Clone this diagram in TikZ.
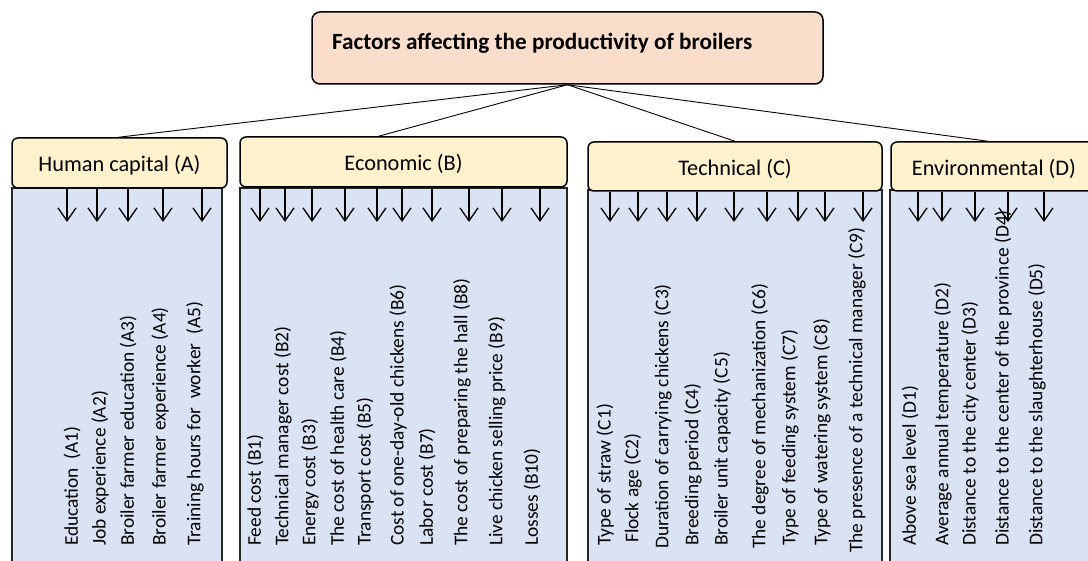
\documentclass[tikz,border=0pt]{standalone}
\usepackage{fontspec}
\setmainfont{Carlito}
\usetikzlibrary{arrows.meta}
\definecolor{titlefill}{HTML}{FADDCB}
\definecolor{hdrfill}{HTML}{FFF2CC}
\definecolor{bodyfill}{HTML}{DAE3F3}
\tikzset{
  titlebox/.style={draw=black, line width=1.5pt, fill=titlefill, rounded corners=8pt, inner sep=0},
  titletext/.style={anchor=west, inner sep=0, font=\bfseries\fontsize{23.2}{27}\selectfont},
  hdr/.style={draw=black, line width=1.5pt, fill=hdrfill, rounded corners=6pt, inner sep=0, text height=20pt, text depth=2.8pt, font=\fontsize{22.3}{25}\selectfont},
  bodybox/.style={draw=black!85, line width=1.5pt, fill=bodyfill},
  item/.style={rotate=90, anchor=west, inner sep=0, font=\fontsize{19.4}{22}\selectfont},
  arr/.style={-{Straight Barb[length=13pt,width=18pt,line width=1.3pt]}, line width=1.3pt},
  link/.style={line width=0.9pt},
}
\begin{document}
\begin{tikzpicture}[x=1pt,y=-1pt]
\clip (0,0) rectangle (1088,561);
\fill[white] (0,0) rectangle (1088,561);
% bodies
\draw[bodybox] (12,188) rectangle (222,575);
\draw[bodybox] (240,188) rectangle (567,575);
\draw[bodybox] (588,190) rectangle (882,575);
\draw[bodybox] (890,190) rectangle (1100,575);
% items A
\node[item] (a1) at (72,546) {Education~ (A1)};
\node[item] (a2) at (100,546) {Job experience (A2)};
\node[item] (a3) at (128,546) {Broiler farmer education (A3)};
\node[item] (a4) at (160,546) {Broiler farmer experience (A4)};
\node[item] (a5) at (195,546) {Training hours for~ worker~ (A5)};
% items B
\node[item] (b1) at (255,546) {Feed cost (B1)};
\node[item] (b2) at (283,546) {Technical manager cost (B2)};
\node[item] (b3) at (310,546) {Energy cost (B3)};
\node[item] (b4) at (338,546) {The cost of health care (B4)};
\node[item] (b5) at (365,546) {Transport cost (B5)};
\node[item] (b6) at (398,546) {Cost of one-day-old chickens (B6)};
\node[item] (b7) at (427,546) {Labor cost (B7)};
\node[item] (b8) at (462,546) {The cost of preparing the hall (B8)};
\node[item] (b9) at (497,546) {Live chicken selling price (B9)};
\node[item] (b10) at (532,546) {Losses (B10)};
% items C
\node[item] (c1) at (605,546) {Type of straw (C1)};
\node[item] (c2) at (633,543) {Flock age (C2)};
\node[item] (c3) at (663,549) {Duration of carrying chickens (C3)};
\node[item] (c4) at (693,546) {Breeding period (C4)};
\node[item] (c5) at (722,546) {Broiler unit capacity (C5)};
\node[item] (c6) at (760,549) {The degree of mechanization (C6)};
\node[item] (c7) at (790,546) {Type of feeding system (C7)};
\node[item] (c8) at (822,546) {Type of watering system (C8)};
\node[item] (c9) at (857,553) {The presence of a technical manager (C9)};
% items D
\node[item] (d1) at (910,546) {Above sea level (D1)};
\node[item] (d2) at (943,546) {Average annual temperature (D2)};
\node[item] (d3) at (970,546) {Distance to the city center (D3)};
\node[item] (d4) at (1003,546) {Distance to the center of the province (D4)};
\node[item] (d5) at (1037,546) {Distance to the slaughterhouse (D5)};
% headers
\node[hdr, minimum width=215pt, minimum height=50pt] (hA) at (119.5,163) {Human capital (A)};
\node[hdr, minimum width=327pt, minimum height=50pt] (hB) at (403.5,162) {Economic (B)};
\node[hdr, minimum width=294pt, minimum height=49pt] (hC) at (735,166.5) {Technical (C)};
\node[hdr, minimum width=206pt, minimum height=49pt] (hD) at (994,166.5) {Environmental (D)};
% arrow tips
\foreach \n/\x in {ta1/67,ta2/97,ta3/128,ta4/163,ta5/202}{\coordinate (\n) at (\x,222);}
\foreach \n/\x in {tb1/260,tb2/285,tb3/312,tb4/345,tb5/377,tb6/402,tb7/432,tb8/469,tb9/502,tb10/540}{\coordinate (\n) at (\x,222);}
\foreach \n/\x in {tc1/610,tc2/638,tc3/667,tc4/697,tc5/734,tc6/767,tc7/798,tc8/825,tc9/863}{\coordinate (\n) at (\x,222);}
\foreach \n/\x in {td1/918,td2/942,td3/975,td4/1008,td5/1044}{\coordinate (\n) at (\x,222);}
\foreach \t in {ta1,ta2,ta3,ta4,ta5}{\draw[arr] (hA.south -| \t) -- (\t);}
\foreach \t in {tb1,tb2,tb3,tb4,tb5,tb6,tb7,tb8,tb9,tb10}{\draw[arr] (hB.south -| \t) -- (\t);}
\foreach \t in {tc1,tc2,tc3,tc4,tc5,tc6,tc7,tc8,tc9}{\draw[arr] (hC.south -| \t) -- (\t);}
\foreach \t in {td1,td2,td3,td4,td5}{\draw[arr] (hD.south -| \t) -- (\t);}
% title
\node[titlebox, minimum width=511pt, minimum height=72pt] (title) at (567.5,48) {};
\node[titletext] (ttext) at (332,43) {Factors affecting the productivity of broilers};
% links
\draw[link] (title.south) -- ([xshift=-1pt]hA.north);
\draw[link] (title.south) -- ([xshift=-25pt]hB.north);
\draw[link] (title.south) -- (hC.north);
\draw[link] (title.south) -- ([xshift=-6pt]hD.north);
\end{tikzpicture}
\end{document}
